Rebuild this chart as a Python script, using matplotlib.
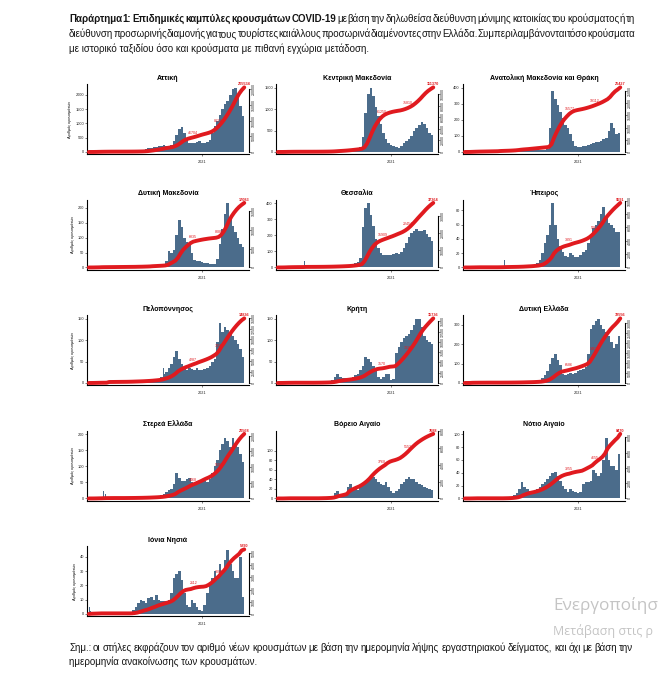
import datetime as dt
import numpy as np
import matplotlib
matplotlib.use("Agg")
import matplotlib.pyplot as plt
from matplotlib.ticker import MaxNLocator

# ---------------- data (weekly mean daily cases, weeks from 2020-02-26) ----------------
region_names = ["Αττική", "Κεντρική Μακεδονία", "Ανατολική Μακεδονία και Θράκη",
                "Δυτική Μακεδονία", "Θεσσαλία", "Ήπειρος",
                "Πελοπόννησος", "Κρήτη", "Δυτική Ελλάδα",
                "Στερεά Ελλάδα", "Βόρειο Αιγαίο", "Νότιο Αιγαίο",
                "Ιόνια Νησιά"]

attiki = [0, 5, 20, 30, 25, 20, 15, 10, 8, 5,
          3, 3, 2, 3, 5, 5, 8, 10, 15, 20,
          30, 50, 90, 130, 150, 160, 180, 200, 220, 250,
          200, 180, 250, 400, 600, 800, 870, 650, 420, 330,
          300, 320, 350, 380, 330, 300, 340, 420, 650, 900,
          1100, 1300, 1500, 1700, 1800, 2000, 2200, 2250, 2000, 1600, 1250]
kentriki_makedonia = [0, 3, 10, 15, 10, 8, 5, 3, 2, 1,
                      1, 1, 1, 2, 2, 3, 5, 5, 8, 10,
                      15, 25, 40, 45, 40, 40, 45, 55, 60, 70,
                      70, 80, 120, 350, 900, 1350, 1500, 1300, 1050, 850,
                      650, 450, 300, 220, 170, 130, 110, 100, 150, 200,
                      250, 300, 380, 480, 550, 620, 700, 650, 550, 450, 400]
anatoliki_makedonia_thraki = [0, 2, 5, 6, 5, 4, 3, 3, 3, 3,
                              3, 3, 4, 8, 6, 5, 5, 6, 8, 10,
                              15, 20, 15, 12, 12, 15, 15, 15, 15, 15,
                              15, 15, 20, 150, 380, 330, 290, 250, 210, 170,
                              150, 110, 70, 40, 30, 30, 35, 40, 45, 50,
                              55, 60, 60, 70, 80, 85, 130, 180, 150, 110, 120]
dytiki_makedonia = [0, 1, 2, 2, 3, 2, 1, 1, 1, 1,
                    1, 1, 1, 1, 1, 1, 1, 1, 2, 2,
                    2, 3, 3, 4, 8, 5, 5, 5, 6, 8,
                    20, 55, 50, 60, 110, 160, 135, 100, 85, 75,
                    50, 25, 22, 20, 18, 15, 15, 12, 10, 12,
                    30, 80, 130, 180, 215, 170, 140, 120, 100, 80, 70]
thessalia = [0, 2, 5, 8, 6, 4, 3, 2, 2, 2,
             5, 2, 1, 1, 1, 1, 2, 2, 3, 3,
             4, 5, 6, 6, 8, 8, 10, 10, 15, 20,
             25, 35, 60, 250, 370, 400, 330, 260, 180, 120,
             90, 80, 75, 80, 75, 85, 90, 85, 95, 120,
             150, 190, 215, 230, 240, 230, 225, 235, 210, 190, 165]
ipeiros = [0, 0, 1, 1, 1, 1, 0, 0, 0, 0,
           0, 0, 0, 1, 1, 1, 1, 1, 1, 1,
           1, 2, 2, 3, 3, 3, 4, 5, 6, 10,
           20, 35, 45, 60, 90, 60, 40, 30, 22, 16,
           15, 20, 18, 15, 15, 18, 22, 25, 35, 45,
           55, 60, 65, 75, 85, 70, 62, 60, 55, 50, 50]
peloponnisos = [0, 1, 2, 2, 2, 1, 1, 1, 1, 1,
                1, 1, 1, 1, 1, 2, 2, 3, 3, 3,
                3, 4, 5, 5, 6, 8, 8, 10, 15, 20,
                25, 35, 45, 60, 75, 55, 45, 35, 30, 35,
                32, 30, 35, 30, 30, 32, 35, 40, 50, 55,
                95, 140, 120, 130, 125, 120, 110, 100, 90, 80, 60]
kriti = [0, 1, 2, 2, 1, 1, 1, 0, 0, 0,
         0, 0, 0, 0, 1, 1, 1, 2, 2, 3,
         5, 8, 15, 20, 15, 12, 12, 10, 12, 15,
         18, 20, 30, 40, 60, 55, 50, 40, 30, 15,
         10, 15, 20, 20, 8, 10, 70, 85, 95, 105,
         110, 115, 125, 135, 150, 150, 130, 110, 100, 95, 90]
dytiki_ellada = [0, 2, 3, 3, 2, 2, 1, 1, 1, 1,
                 0, 0, 0, 0, 1, 1, 1, 1, 2, 2,
                 3, 3, 4, 5, 5, 5, 6, 8, 10, 15,
                 25, 40, 60, 100, 130, 150, 120, 90, 45, 40,
                 45, 50, 45, 50, 60, 65, 70, 80, 150, 280,
                 300, 320, 330, 300, 280, 260, 240, 210, 180, 200, 240]
sterea_ellada = [0, 1, 2, 3, 2, 2, 1, 1, 1, 1,
                 0, 0, 0, 0, 1, 1, 1, 1, 2, 2,
                 2, 3, 3, 4, 5, 5, 6, 8, 10, 15,
                 20, 25, 30, 45, 80, 65, 55, 55, 60, 65,
                 50, 45, 55, 50, 60, 55, 50, 60, 80, 100,
                 120, 150, 170, 190, 180, 160, 190, 170, 160, 140, 115]
voreio_aigaio = [0, 0, 1, 1, 1, 0, 0, 0, 0, 0,
                 0, 0, 0, 0, 0, 0, 1, 1, 1, 2,
                 2, 5, 12, 15, 10, 10, 12, 25, 30, 20,
                 20, 18, 25, 30, 35, 42, 50, 45, 40, 35,
                 30, 28, 35, 25, 15, 12, 15, 20, 30, 35,
                 40, 45, 42, 40, 35, 30, 28, 25, 22, 20, 18]
notio_aigaio = [0, 0, 1, 1, 1, 0, 0, 0, 0, 0,
                0, 0, 0, 0, 0, 1, 1, 2, 3, 5,
                8, 15, 25, 18, 15, 12, 10, 12, 15, 18,
                22, 25, 30, 35, 40, 42, 35, 28, 20, 15,
                10, 15, 12, 10, 8, 10, 22, 25, 25, 28,
                45, 40, 35, 40, 60, 95, 60, 50, 50, 45, 70]
ionia_nisia = [2, 1, 1, 1, 1, 0, 0, 0, 0, 0,
               0, 0, 0, 0, 0, 0, 1, 3, 5, 8,
               10, 9, 8, 11, 12, 10, 13, 10, 9, 9,
               9, 10, 15, 25, 28, 30, 24, 15, 6, 5,
               10, 8, 5, 3, 2, 6, 15, 20, 25, 30,
               25, 35, 30, 38, 45, 35, 30, 25, 25, 40, 12]

series = [attiki, kentriki_makedonia, anatoliki_makedonia_thraki,
          dytiki_makedonia, thessalia, ipeiros,
          peloponnisos, kriti, dytiki_ellada,
          sterea_ellada, voreio_aigaio, notio_aigaio, ionia_nisia]

# single-day spikes (day from 2020-02-26, cases)
spike_days = [[], [], [96], [30], [72], [108], [52, 205], [], [14], [40, 46], [195], [], [2]]
spike_vals = [[], [], [30], [10], [40], [10], [150, 35], [], [55], [22, 15], [135], [], [5]]

left_ticks = [[0, 500, 1000, 1500, 2000], [0, 500, 1000, 1500], [0, 100, 200, 300, 400],
              [0, 50, 100, 150, 200], [0, 100, 200, 300, 400], [0, 20, 40, 60, 80],
              [0, 50, 100, 150], [0, 50, 100, 150], [0, 100, 200, 300],
              [0, 50, 100, 150, 200], [0, 20, 40, 60, 80, 100], [0, 20, 40, 60, 80, 100],
              [0, 10, 20, 30, 40]]

start_date = dt.date(2020, 2, 26)
tick_day = (dt.date(2021, 1, 1) - start_date).days
mid_label_weeks = [41, 51]

header_l1_bold = "Παράρτημα 1:  Επιδημικές καμπύλες κρουσμάτων COVID-19"
header_l1 = "με βάση την δηλωθείσα διεύθυνση μόνιμης κατοικίας του κρούσματος ή τη"
header_l2 = ("διεύθυνση προσωρινής διαμονής για τους τουρίστες και άλλους προσωρινά "
             "διαμένοντες στην Ελλάδα. Συμπεριλαμβάνονται τόσο κρούσματα")
header_l3 = "με ιστορικό ταξιδίου όσο και κρούσματα με πιθανή εγχώρια μετάδοση."
foot_l1 = ("Σημ.: οι στήλες εκφράζουν τον αριθμό νέων κρουσμάτων με βάση την ημερομηνία "
           "λήψης εργαστηριακού δείγματος, και όχι με βάση την")
foot_l2 = "ημερομηνία ανακοίνωσης των κρουσμάτων."

# ---------------- figure ----------------
plt.rcParams["font.family"] = ["Liberation Sans Narrow", "Liberation Sans", "DejaVu Sans"]
W, H = 665, 674
fig = plt.figure(figsize=(W / 100, H / 100), dpi=100)
fig.patch.set_facecolor("white")
renderer = fig.canvas.get_renderer()

BAR = "#4b6c8b"
RED = "#e01a1f"

col_x = [87, 276, 463]
row_top = [84, 199.5, 315, 430.5, 546]
pw, ph = 162, 70


def justified(pieces, y, x0, x1, size):
    texts, widths = [], []
    for word, wt in pieces:
        t = fig.text(0, 1 - y / H, word, fontsize=size, fontweight=wt,
                     va="center", ha="left", color="#151515")
        texts.append(t)
        widths.append(t.get_window_extent(renderer).width)
    gap = (x1 - x0 - sum(widths)) / (len(texts) - 1)
    x = x0
    for t, wd in zip(texts, widths):
        t.set_x(x / W)
        x += wd + gap


FS = 7.0
justified([(w, "bold") for w in header_l1_bold.split()] + [(w, "normal") for w in header_l1.split()],
          19, 69, 635, FS)
justified([(w, "normal") for w in header_l2.split()], 34, 69, 635, FS)
fig.text(69 / W, 1 - 49 / H, header_l3, fontsize=FS, va="center", ha="left", color="#151515")
justified([(w, "normal") for w in foot_l1.split()], 648, 69, 633, FS)
fig.text(69 / W, 1 - 662 / H, foot_l2, fontsize=FS, va="center", ha="left", color="#151515")

for i, (name, vals) in enumerate(zip(region_names, series)):
    r, c = divmod(i, 3)
    x0 = col_x[c]
    y0 = row_top[r]
    ax = fig.add_axes([x0 / W, 1 - (y0 + ph) / H, pw / W, ph / H])
    vals = np.asarray(vals, dtype=float)
    n = len(vals)
    centers = 7 * np.arange(n) + 3.5
    ax.bar(centers, vals, width=7.0, color=BAR, linewidth=0, zorder=2)
    sd, sv = spike_days[i], spike_vals[i]
    if sd:
        ax.bar(np.asarray(sd) + 0.5, sv, width=1.6, color=BAR, linewidth=0, zorder=2)

    top = max(vals.max(), max(sv) if sv else 0, left_ticks[i][-1]) * 1.06
    ax.set_ylim(-0.03 * top, top)
    ax.set_xlim(-5, 440)
    ax.set_yticks(left_ticks[i])
    ax.set_xticks([tick_day])
    ax.set_xticklabels(["2021"])
    ax.tick_params(labelsize=2.8, length=1.5, width=0.4, pad=0.8, colors="#222222")
    ax.tick_params(axis="x", pad=3)
    for s in ("top", "right"):
        ax.spines[s].set_visible(False)
    for s in ("left", "bottom"):
        ax.spines[s].set_linewidth(0.8)
    ax.set_title(name, fontsize=5.0, fontweight="bold", pad=3)
    if c == 0:
        ax.set_ylabel("Αριθμός κρουσμάτων", fontsize=2.8, labelpad=2)

    # cumulative
    edges = 7 * np.arange(n + 1)
    cum = np.concatenate([[0], np.cumsum(vals * 7)])
    for d, v in zip(sd, sv):
        cum[edges > d] += v
    ax2 = ax.twinx()
    rtop = cum[-1] / 0.95
    ax2.set_ylim(-0.03 * rtop, rtop)
    ax2.plot(edges, cum, color=RED, lw=2.8, solid_capstyle="round", zorder=4)
    loc = MaxNLocator(nbins=7, steps=[1, 2, 2.5, 5, 10])
    rt = [t for t in loc.tick_values(0, rtop) if 0 <= t <= rtop]
    ax2.set_yticks(rt)
    ax2.set_yticklabels([f"{int(t)}" for t in rt])
    ax2.spines["right"].set_bounds(0, rt[-1])
    ax2.spines["right"].set_linewidth(0.8)
    for s in ("top", "left", "bottom"):
        ax2.spines[s].set_visible(False)
    ax2.tick_params(labelsize=2.6, length=1.5, width=0.4, pad=0.8, colors="#222222")
    for lab in ax2.get_yticklabels():
        lab.set_rotation(90)
        lab.set_va("center")
    ax2.text(edges[-1], cum[-1] + 0.02 * rtop, f"{int(round(cum[-1]))}", color=RED,
             fontsize=2.8, fontweight="bold", ha="center", va="bottom")
    for k in mid_label_weeks:
        ax2.text(edges[k], cum[k] + 0.04 * rtop, f"{int(round(cum[k]))}", color=RED,
                 fontsize=2.6, ha="center", va="bottom")

fig.text(553 / W, 1 - 606 / H, "Ενεργοποίησ", fontsize=12.3, color="#c4c4c4",
         family=["Open Sans", "DejaVu Sans"], va="center", ha="left")
fig.text(553 / W, 1 - 631 / H, "Μετάβαση στις ρ", fontsize=9.0, color="#c4c4c4",
         family=["Open Sans", "DejaVu Sans"], va="center", ha="left")

fig.savefig("out.png", dpi=100, facecolor="white")
